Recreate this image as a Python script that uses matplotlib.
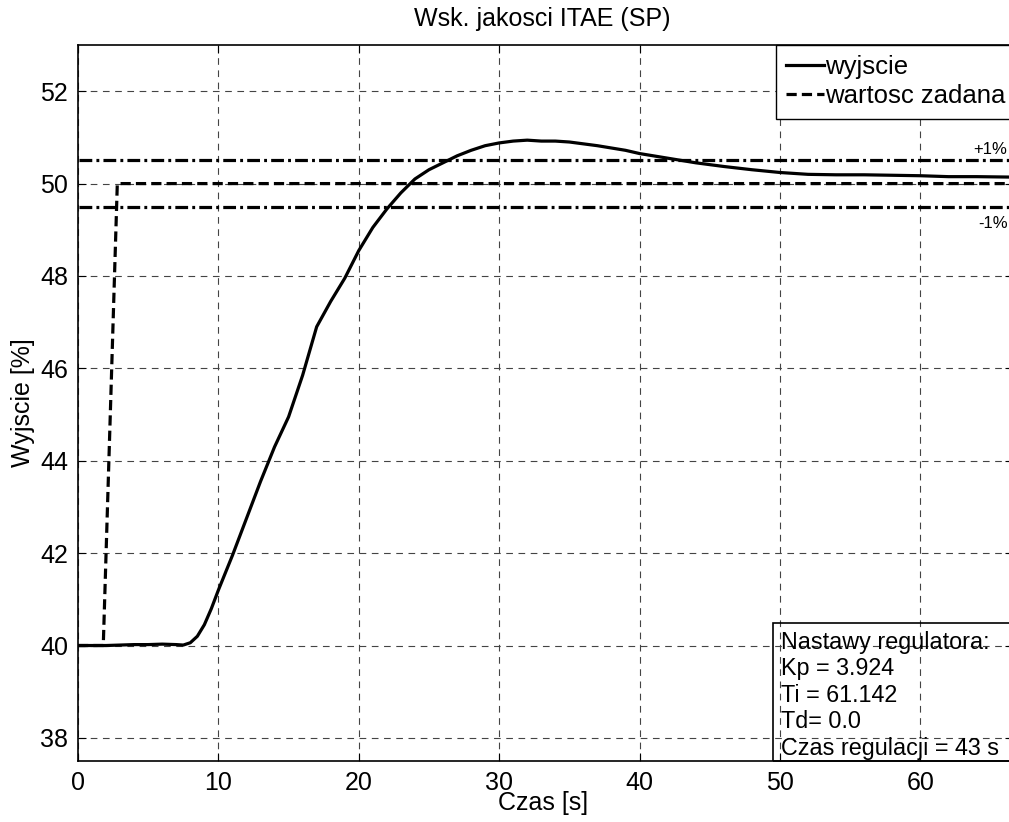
import matplotlib.pyplot as plt
from matplotlib.patches import Rectangle

plt.rcParams['font.family'] = ['Liberation Sans', 'DejaVu Sans']

# step response
czas = [0, 1, 2, 3, 4, 5, 6, 7, 7.5, 8, 8.5, 9, 9.5, 10, 11, 12, 13, 14, 15,
        16, 17, 18, 19, 20, 21, 22, 23, 24, 25, 26, 27, 28, 29, 30, 31, 32,
        33, 34, 35, 36, 37, 38, 39, 40, 42, 44, 46, 48, 50, 52, 54, 56, 58,
        60, 62, 64, 66.6]
wyjscie = [40.0, 40.0, 40.0, 40.01, 40.02, 40.02, 40.03, 40.02, 40.01, 40.06,
           40.2, 40.45, 40.8, 41.2, 41.95, 42.75, 43.55, 44.3, 44.95, 45.85,
           46.9, 47.45, 47.95, 48.55, 49.05, 49.45, 49.8, 50.1, 50.3, 50.45,
           50.6, 50.72, 50.82, 50.88, 50.92, 50.94, 50.92, 50.92, 50.9, 50.86,
           50.82, 50.77, 50.72, 50.65, 50.55, 50.45, 50.37, 50.3, 50.24, 50.2,
           50.19, 50.19, 50.18, 50.17, 50.15, 50.15, 50.14]

sp_czas = [0, 1.8, 2.8, 66.6]
sp_wart = [40, 40, 50, 50]

pasmo = [49.5, 50.5]
nastawy = ['Nastawy regulatora:', 'Kp = 3.924', 'Ti = 61.142', 'Td= 0.0',
           'Czas regulacji = 43 s']

W, H = 1009, 822
fig = plt.figure(figsize=(W / 100, H / 100), dpi=100)
ax = fig.add_axes([78 / W, 1 - 761 / H, (1013 - 78) / W, (761 - 45) / H])

ax.plot(czas, wyjscie, color='black', lw=2.3, label='wyjscie', zorder=4)
ax.plot(sp_czas, sp_wart, color='black', lw=2.3, dashes=(3.2, 1.6),
        label='wartosc zadana', zorder=4)
for p in pasmo:
    ax.plot([0.1, 66.6], [p, p], color='black', lw=2.3,
            dashes=(4.0, 1.3, 0.9, 1.3), zorder=3)

ax.set_xlim(0, 66.6)
ax.set_ylim(37.5, 53)
ax.set_xticks(range(0, 61, 10))
ax.set_yticks(range(38, 53, 2))
ax.tick_params(direction='in', top=True, right=True, labelsize=18, length=6,
               width=0.8, pad=7)
ax.grid(True, color='#444444', lw=0.8, dashes=(6, 5))
for s in ax.spines.values():
    s.set_linewidth(1.2)

ax.set_ylabel('Wyjscie [%]', fontsize=18, labelpad=4)
fig.text(543 / W, 1 - 803 / H, 'Czas [s]', ha='center', va='center',
         fontsize=18)
fig.text(542 / W, 1 - 19 / H, 'Wsk. jakosci ITAE (SP)', ha='center',
         va='center', fontsize=18)

ax.text(66.2, 50.65, '+1%', ha='right', va='baseline', fontsize=12)
ax.text(66.2, 49.3, '-1%', ha='right', va='top', fontsize=12)

leg = ax.legend(loc='upper left', bbox_to_anchor=(776 / W, 1 - 45 / H),
                bbox_transform=fig.transFigure, fontsize=18.5, frameon=True,
                fancybox=False, framealpha=1, edgecolor='black',
                handlelength=1.45, handletextpad=0.05, borderpad=0.4,
                labelspacing=0.2, borderaxespad=0)
leg.get_frame().set_linewidth(1.0)

fig.patches.append(Rectangle((773 / W, 1 - 761 / H), 260 / W, 138 / H,
                             transform=fig.transFigure, fill=False,
                             edgecolor='black', lw=1.2, zorder=5))
fig.text(781 / W, 1 - 631 / H, '\n'.join(nastawy), ha='left', va='top',
         fontsize=16.8, linespacing=1.19)

fig.savefig('out.png', dpi=100)
